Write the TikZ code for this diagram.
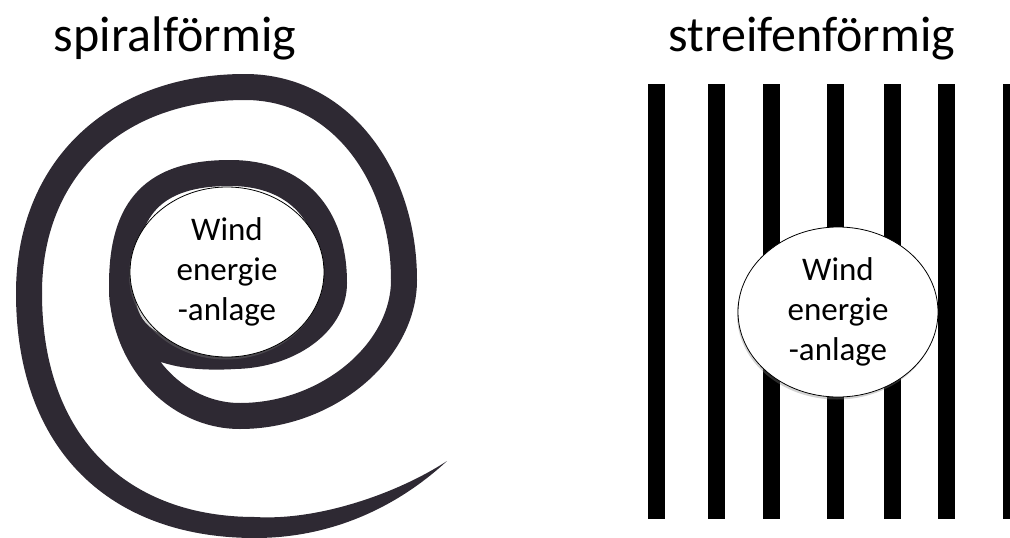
\documentclass[tikz,border=0pt]{standalone}
\usepackage{fontspec}
\setmainfont{Carlito}
\usetikzlibrary{shapes.geometric,shadows}
\definecolor{spiralc}{RGB}{46,41,51}
\begin{document}
\begin{tikzpicture}[x=1pt,y=-1pt,
  title/.style={font=\fontsize{50}{60}\selectfont, anchor=base, inner sep=0pt},
  wea/.style={ellipse, draw=black, line width=0.8pt, fill=white, align=center, inner sep=0pt,
    font=\fontsize{33}{40}\selectfont,
    drop shadow={shadow xshift=-1pt, shadow yshift=-2.5pt, opacity=0.35}},
  stripe/.style={fill=black},
  band/.style={draw=spiralc, line width=26pt},
  bandtail/.style={fill=spiralc},
]
\useasboundingbox (0,0) rectangle (1010,538);
\node[title] (t1) at (175,51) {spiralförmig};
\node[title] (t2) at (812,51) {streifenförmig};
% spiral
\draw[band] (122,290) .. controls (122,345) and (170,360) .. (235,356)
  .. controls (288,355) and (334,324) .. (334,283)
  .. controls (334,215) and (297,173) .. (230,173)
  .. controls (154,173) and (122,207) .. (122,285)
  .. controls (122,357) and (175,416) .. (240,416)
  .. controls (327,416) and (404,352) .. (404,280)
  .. controls (404,175) and (340,87) .. (245,87)
  .. controls (115,87) and (29,169) .. (29,293);
\fill[bandtail] (16,293) .. controls (16,450) and (110,538) .. (255,538)
  .. controls (340,538) and (405,500) .. (447,461)
  .. controls (400,492) and (320,521) .. (255,517)
  .. controls (130,517) and (42,440) .. (42,293) -- cycle;
\node[wea, minimum width=194pt, minimum height=170pt] (w1) at (227,272) {Wind\\energie\\-anlage};
% stripes
\foreach \xa in {648,708,763,827,884,938,1003}{
  \fill[stripe] (\xa,84) rectangle ++(17,435);
}
\node[wea, minimum width=200pt, minimum height=170pt] (w2) at (838,312) {Wind\\energie\\-anlage};
\end{tikzpicture}
\end{document}
